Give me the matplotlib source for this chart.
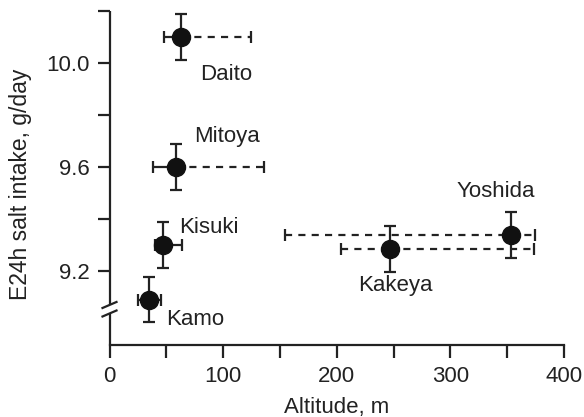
import matplotlib
matplotlib.use("Agg")
import matplotlib.pyplot as plt
from matplotlib.lines import Line2D

plt.rcParams['font.family'] = ['Liberation Sans', 'DejaVu Sans']
plt.rcParams['font.size'] = 16

# data
sites = ['Daito', 'Mitoya', 'Kisuki', 'Kamo', 'Kakeya', 'Yoshida']
altitude = [62.9, 58.2, 47.3, 34.7, 246.6, 353.6]
alt_low = [47.9, 38.2, 40.0, 24.8, 203.5, 154.3]
alt_high = [124.1, 135.8, 63.5, 45.3, 373.4, 374.7]
salt = [10.10, 9.60, 9.30, 9.09, 9.283, 9.338]
salt_err = [0.09, 0.09, 0.09, 0.088, 0.088, 0.087]
left_dashed = [False, False, False, False, True, True]
right_dashed = [True, True, False, False, True, True]
label_x = [79.6, 74.6, 61.0, 49.4, 218.8, 305.2]
label_y = [9.935, 9.696, 9.346, 8.992, 9.123, 9.485]

xticks = [0, 50, 100, 150, 200, 250, 300, 350, 400]
xticklabels = ['0', '', '100', '', '200', '', '300', '', '400']
yticks = [9.2, 9.4, 9.6, 9.8, 10.0, 10.2]
yticklabels = ['9.2', '', '9.6', '', '10.0', '']

ink = '#222222'
lw = 1.6

fig = plt.figure(figsize=(5.84, 4.17), dpi=100)
ax = fig.add_axes([109.5 / 584, 1 - 345 / 417, 454.5 / 584, 334 / 417])

for i in range(len(sites)):
    x, y = altitude[i], salt[i]
    # horizontal bar drawn in two halves, each solid or dashed
    for err, dashed in (([[x - alt_low[i]], [0]], left_dashed[i]),
                        ([[0], [alt_high[i] - x]], right_dashed[i])):
        eb = ax.errorbar([x], [y], xerr=err, fmt='none', ecolor=ink,
                         elinewidth=lw, capsize=4, capthick=lw, zorder=2)
        if dashed:
            eb[2][0].set_linestyle((0, (3.2, 2.8)))
    ax.errorbar([x], [y], yerr=[salt_err[i]], fmt='none', ecolor=ink,
                elinewidth=lw, capsize=4, capthick=lw, zorder=2)
    ax.plot([x], [y], 'o', color='#111111', markersize=13, zorder=3)
    ax.text(label_x[i], label_y[i], sites[i], ha='left', va='baseline',
            color=ink, fontsize=16)

ax.set_xlim(0, 400)
ax.set_ylim(8.915, 10.2)
ax.set_xticks(xticks)
ax.set_xticklabels(xticklabels)
ax.set_yticks(yticks)
ax.set_yticklabels(yticklabels)
ax.tick_params(axis='both', length=9, width=lw, color=ink, labelcolor=ink,
               labelsize=16)
ax.tick_params(axis='x', pad=6)
ax.tick_params(axis='y', pad=5)

for s in ['top', 'right', 'left']:
    ax.spines[s].set_visible(False)
ax.spines['bottom'].set_linewidth(lw)
ax.spines['bottom'].set_color(ink)

# left spine with a break
brk_hi, brk_lo = 0.1198, 0.0943
for y0, y1 in ((0, brk_lo), (brk_hi, 1)):
    ax.add_line(Line2D([0, 0], [y0, y1], transform=ax.transAxes, color=ink,
                       lw=lw, clip_on=False, solid_capstyle='butt'))
dx, dy = 0.0154, 0.009
for yc in (brk_hi, brk_lo):
    ax.add_line(Line2D([-dx, dx], [yc - dy, yc + dy], transform=ax.transAxes,
                       color=ink, lw=lw, clip_on=False))

ax.set_xlabel('Altitude, m', color=ink, fontsize=16)
ax.set_ylabel('E24h salt intake, g/day', color=ink, fontsize=16.5)
ax.xaxis.set_label_coords(0.5, -0.157)
ax.yaxis.set_label_coords(-0.1705, 0.48)

fig.savefig('out.png', dpi=100)
